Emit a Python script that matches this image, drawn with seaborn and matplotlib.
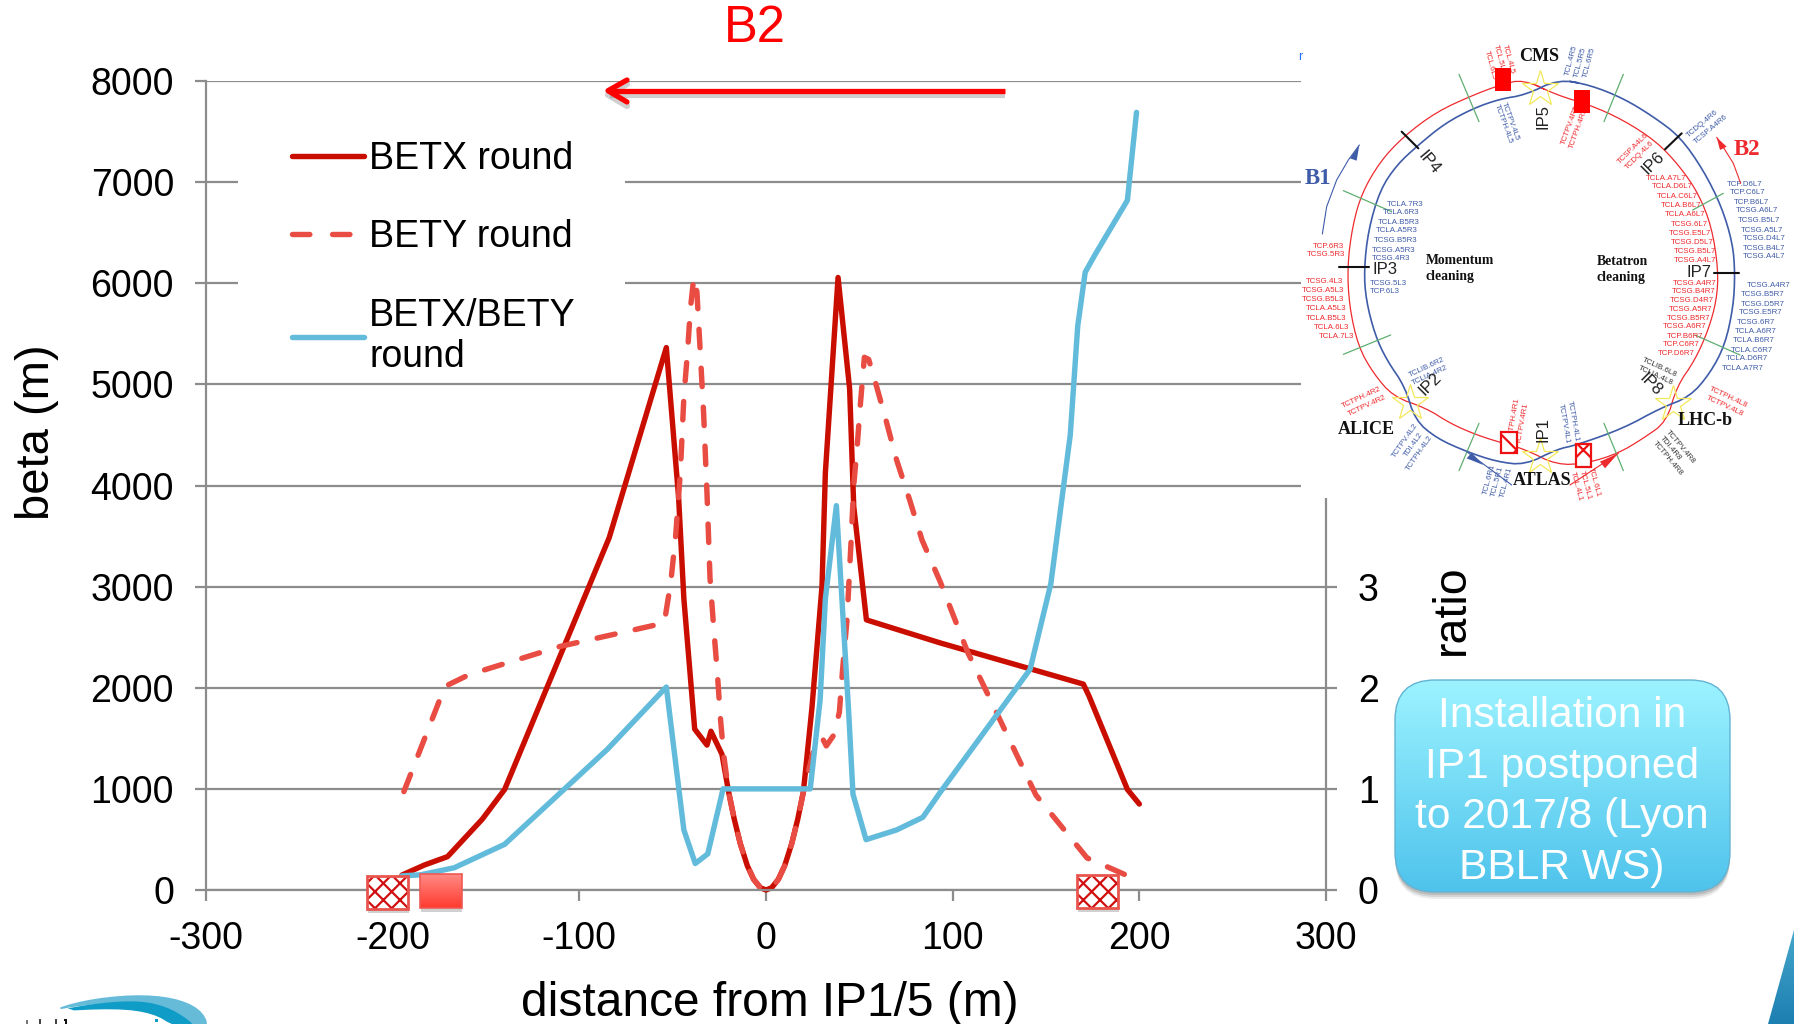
import numpy as np
import pandas as pd
import matplotlib
matplotlib.use("Agg")
import matplotlib.pyplot as plt
from matplotlib.lines import Line2D
from matplotlib.patches import Rectangle, FancyBboxPatch, Polygon
import seaborn as sns

# ---------- chart data ----------
betx_s = [-195, -183, -170.6, -152, -140, -84, -53.4, -46.8, -44, -38.2, -31.6, -29.5, -23.6, -20, -17, -13.8, -10, -6.6, -3, 0,
          3, 6.6, 10, 13.8, 17, 20, 24.6, 30, 31.8, 38.6, 44.8, 47, 53.8, 93.4, 170, 173, 193.6, 200]
betx = [148, 247, 330, 700, 995, 3484, 5364, 3876, 2880, 1591, 1433, 1570, 1342, 968, 700, 460, 240, 105, 22, 0,
        22, 105, 240, 460, 700, 968, 1799, 3004, 4125, 6057, 4956, 3793, 2671, 2443, 2036, 1920, 995, 850]
bety_s = [-194, -172, -159, -110, -54.5, -51, -48.4, -45.9, -44, -42, -40.5, -38.7, -37, -35, -33.4, -31.6, -30, -28,
          -26, -24.5, -22.7, -20, -17, -13.8, -10, -6.6, -3, 0, 3, 6.6, 10, 13.8, 17, 20, 25.5, 30, 32.3, 36.2, 39.3, 41, 43.4, 45.5, 47, 48.8,
          50.5, 52.7, 55, 57.7, 64, 70, 77, 83.6, 93.4, 108, 144.6, 172, 200]
bety = [973, 2013, 2130, 2410, 2640, 3045, 3502, 4125, 4873, 5330, 5746, 6057, 5912, 5247, 4707, 3918, 3087, 2588,
        2131, 1716, 1342, 968, 700, 460, 240, 105, 22, 0, 22, 105, 240, 460, 700, 968, 1383, 1508, 1425, 1529, 1757, 2173, 2671, 3419, 4000, 4375,
        4790, 5268, 5247, 5081, 4665, 4250, 3855, 3460, 3045, 2353, 939, 317, 90]
ratio_s = [-195, -185, -167, -140, -85, -53.4, -44, -37.9, -31.2, -23, 23.7, 29, 31.8, 37.7, 41.6, 44.3, 46.6, 53.6,
           70, 84, 93.4, 141.5, 152.6, 163, 167, 171, 176.5, 193.6, 198.5]
ratio = [0.14, 0.15, 0.22, 0.452, 1.391, 2.007, 0.594, 0.262, 0.357, 1.0, 1.0, 1.882, 2.879, 3.801, 2.588, 1.757, 0.947,
         0.498, 0.594, 0.719, 0.968, 2.183, 3.03, 4.5, 5.577, 6.109, 6.29, 6.82, 7.69]
x_ticks = [-300, -200, -100, 0, 100, 200, 300]
beta_ticks = [0, 1000, 2000, 3000, 4000, 5000, 6000, 7000, 8000]
ratio_ticks = [0, 1, 2, 3, 4, 5, 6, 7, 8]
ratio_tick_labels = ["0", "1", "2", "3", "", "", "", "", ""]
series_names = ["BETX round", "BETY round", "BETX/BETY\nround"]
callout_text = "Installation in\nIP1 postponed\nto 2017/8 (Lyon\nBBLR WS)"

# colours
C_X, C_Y, C_R = "#c90e00", "#e84c42", "#62bbdb"
GRID = "#8c8c8c"
RED, BLUE = "#ee2a2e", "#3f5ca8"

sns.set_theme(style="white")
plt.rcParams["font.family"] = ["Liberation Sans", "DejaVu Sans"]
plt.rcParams["axes.unicode_minus"] = False
plt.rcParams["hatch.linewidth"] = 1.6

W, H = 1794, 1024
fig = plt.figure(figsize=(W / 100, H / 100), dpi=100, facecolor="white")
L, R, T, B = 206, 1326, 81, 890
ax = fig.add_axes([L / W, 1 - B / H, (R - L) / W, (B - T) / H])
ax2 = ax.twinx()
ov = fig.add_axes([0, 0, 1, 1], zorder=10)
ov.patch.set_visible(False)
ov.axis("off")
ov.set_xlim(0, W)
ov.set_ylim(H, 0)

lkw = dict(estimator=None, errorbar=None, sort=False, linewidth=3.9, clip_on=False, legend=False)
df_x = pd.DataFrame({"s": betx_s, "beta": betx})
df_y = pd.DataFrame({"s": bety_s, "beta": bety})
df_r = pd.DataFrame({"s": ratio_s, "ratio": ratio})
sns.lineplot(data=df_x, x="s", y="beta", ax=ax, color=C_X, solid_capstyle="round", solid_joinstyle="round", **lkw)
sns.lineplot(data=df_y, x="s", y="beta", ax=ax, color=C_Y, linestyle=(0, (3.4, 3.8)),
             dash_capstyle="round", dash_joinstyle="round", **lkw)
sns.lineplot(data=df_r, x="s", y="ratio", ax=ax2, color=C_R, solid_capstyle="round", solid_joinstyle="round", **lkw)

ax.set_xlim(-300, 300)
ax.set_ylim(0, 8000)
ax2.set_ylim(0, 8)
ax.set_xticks(x_ticks)
ax.set_yticks(beta_ticks)
ax2.set_yticks(ratio_ticks)
ax2.set_yticklabels(ratio_tick_labels)
ax.grid(True, axis="y", color=GRID, linewidth=1.6)
ax.set_axisbelow(True)
ax2.grid(False)
for a in (ax, ax2):
    a.patch.set_visible(False)
    a.spines["top"].set_visible(False)
    for s in ("left", "right", "bottom"):
        a.spines[s].set_color(GRID)
        a.spines[s].set_linewidth(1.6)
ax.spines["right"].set_visible(False)
ax2.spines["left"].set_visible(False)
ax2.spines["bottom"].set_visible(False)
tk = dict(length=8, width=1.6, color=GRID, labelcolor="black", labelsize=27)
ax.tick_params(axis="x", bottom=True, pad=14, **tk)
ax.tick_params(axis="y", left=True, pad=15, **tk)
ax2.tick_params(axis="y", right=True, pad=15, **tk)

ax.set_xlabel("distance from IP1/5 (m)", fontsize=34.5, color="black", ha="center", va="center")
ax.xaxis.set_label_coords(770, 1004, transform=ov.transData)
ax.set_ylabel("beta (m)", fontsize=34, color="black", ha="center", va="center", rotation=90)
ax.yaxis.set_label_coords(37, 432, transform=ov.transData)
ax2.set_ylabel("ratio", fontsize=33.5, color="black", ha="center", va="center", rotation=90)
ax2.yaxis.set_label_coords(1452, 610, transform=ov.transData)

# legend: white patch cuts the grid, text and handles come from the legend
ax.add_patch(Rectangle((238, 100), 387, 278, transform=ov.transData, fc="white", ec="none", zorder=1))
handles = [Line2D([], [], color=C_X, lw=3.9, solid_capstyle="round"),
           Line2D([], [], color=C_Y, lw=3.9, linestyle=(0, (3.2, 4.2)), dash_capstyle="round"),
           Line2D([], [], color=C_R, lw=3.9, solid_capstyle="round")]
ov.legend(handles, series_names, loc="upper left", bbox_to_anchor=(292, 141), bbox_transform=ov.transData,
          frameon=False, fontsize=27, handlelength=1.93, handletextpad=0.13, labelspacing=1.13, borderpad=0,
          borderaxespad=0, labelcolor="black")

# B2 label and arrow
ov.text(755, 28, "B2", color="#ff0000", fontsize=36.5, ha="center", va="center")
for dx, col, al, lw in [(4, "#555555", 0.28, 4.5), (0, "#ff0000", 1, 3.8)]:
    ov.plot([1005, 610], [90.7 + dx, 90.7 + dx], color=col, alpha=al, lw=lw, solid_capstyle="butt")
    ov.plot([627, 608, 627], [80 + dx, 90.7 + dx, 102 + dx], color=col, alpha=al, lw=lw,
            solid_capstyle="round", solid_joinstyle="round")


def smooth(pts, rounds=2):
    """Corner cutting for the hand-traced decoration outlines (rings, logo)."""
    pts = np.asarray(pts, float)
    for _ in range(rounds):
        a_, b_ = pts[:-1], pts[1:]
        cut = np.empty((2 * len(a_), 2))
        cut[0::2] = 0.75 * a_ + 0.25 * b_
        cut[1::2] = 0.25 * a_ + 0.75 * b_
        pts = cut
    return pts


def gradient_box(x0, y0, x1, y1, top, bot, patch, z=3):
    c0, c1 = np.array(matplotlib.colors.to_rgb(top)), np.array(matplotlib.colors.to_rgb(bot))
    t = np.linspace(0, 1, 128)[:, None, None]
    im = ov.imshow(c0 + (c1 - c0) * t, extent=(x0, x1, y1, y0), aspect="auto", zorder=z, interpolation="bilinear")
    ov.add_patch(patch)
    im.set_clip_path(patch)
    ov.set_xlim(0, W)
    ov.set_ylim(H, 0)


def hatched(x0, y0, x1, y1, z=3, edge="#e8554f", hatchc="#d01010", lw=2.0, shadow=True, hatch="xx"):
    if shadow:
        ov.add_patch(Rectangle((x0 + 1, y0 + 4), x1 - x0, y1 - y0, fc="#666666", alpha=0.3, ec="none", zorder=z - 0.2))
    ov.add_patch(Rectangle((x0, y0), x1 - x0, y1 - y0, fc="white", ec=hatchc, hatch=hatch, lw=0, zorder=z))
    ov.add_patch(Rectangle((x0, y0), x1 - x0, y1 - y0, fc="none", ec=edge, lw=lw, zorder=z + 0.1))


hatched(367, 876, 408, 909)
hatched(1077, 875, 1118, 908)
ov.add_patch(Rectangle((421, 878), 41, 34, fc="#666666", alpha=0.3, ec="none", zorder=2.8))
p = Rectangle((420, 874), 42, 34, fc="none", ec="#ee5a54", lw=1.2, zorder=3.2)
gradient_box(420, 874, 462, 908, "#ff8a84", "#ff3a2e", p)

# ---------- LHC ring inset, in zoom coordinates ----------
ZX, ZY, ZS = 1290, 30, 3.0


def zx(x):
    return ZX + np.asarray(x, float) / ZS


def zy(y):
    return ZY + np.asarray(y, float) / ZS


ov.add_patch(Rectangle((1301, 0), W - 1301, 498, fc="white", ec="none", zorder=1))
Z = 1.5
ring_blue = [(805, 148), (900, 165), (1000, 205), (1090, 260), (1170, 320), (1240, 420), (1295, 530), (1328, 640),
             (1335, 730), (1330, 830), (1305, 945), (1260, 1030), (1200, 1100), (1110, 1135), (1000, 1195),
             (860, 1245), (800, 1258), (705, 1305), (620, 1295), (530, 1265), (440, 1225), (375, 1170), (345, 1070),
             (290, 990), (255, 915), (228, 810), (222, 720), (235, 600), (270, 480), (320, 405), (385, 345),
             (465, 280), (550, 235), (630, 207), (705, 195), (805, 148)]
ring_red = [(700, 148), (800, 195), (900, 225), (1000, 270), (1100, 335), (1170, 410), (1225, 490), (1265, 590),
            (1285, 720), (1280, 810), (1255, 900), (1215, 990), (1160, 1070), (1130, 1175), (1060, 1225),
            (985, 1270), (890, 1300), (800, 1305), (705, 1258), (640, 1240), (560, 1215), (480, 1180), (410, 1135),
            (310, 1100), (250, 1030), (205, 950), (178, 830), (172, 710), (187, 590), (215, 490), (270, 395),
            (340, 320), (440, 245), (550, 195), (630, 165), (700, 148)]
for ring, col, lw_ in ((ring_red, RED, 0.9), (ring_blue, BLUE, 1.2)):
    rr = smooth(ring + ring[1:2], 2)
    ov.plot(zx(rr[:, 0]), zy(rr[:, 1]), color=col, lw=lw_, zorder=Z)
ticks_green = [((507, 133), (567, 275)), ((1000, 133), (942, 275)), ((160, 482), (305, 545)), ((160, 973), (302, 915)),
               ((1208, 540), (1300, 490)), ((1215, 915), (1350, 975)), ((507, 1322), (567, 1180)),
               ((1000, 1322), (942, 1180))]
ticks_black = [((335, 305), (385, 355)), ((1125, 358), (1175, 310)), ((148, 712), (238, 712)), ((1272, 730), (1348, 730))]
for a_, b_ in ticks_green:
    ov.plot(zx([a_[0], b_[0]]), zy([a_[1], b_[1]]), color="#5fae70", lw=0.9, zorder=Z)
for a_, b_ in ticks_black:
    ov.plot(zx([a_[0], b_[0]]), zy([a_[1], b_[1]]), color="#111111", lw=1.5, zorder=Z)
for sx, sy in [(750, 178), (750, 1280), (360, 1120), (1148, 1122)]:
    ov.plot(zx([sx]), zy([sy]), marker="*", ms=27, mfc="none", mec="#f3e85a", mew=0.9, ls="none", zorder=Z)

small_red = [("TCP.6R3", 70, 648), ("TCSG.5R3", 52, 674), ("TCSG.4L3", 47, 755), ("TCSG.A5L3", 35, 781),
             ("TCSG.B5L3", 35, 809), ("TCLA.A5L3", 47, 836), ("TCLA.B5L3", 47, 864), ("TCLA.6L3", 72, 893),
             ("TCLA.7L3", 86, 919), ("TCLA.A7L7", 1068, 445), ("TCLA.D6L7", 1087, 471), ("TCLA.C6L7", 1100, 500),
             ("TCLA.B6L7", 1113, 526), ("TCLA.A6L7", 1125, 555), ("TCSG.6L7", 1144, 583), ("TCSG.E5L7", 1138, 610),
             ("TCSG.D5L7", 1144, 638), ("TCSG.B5L7", 1151, 664), ("TCSG.A4L7", 1151, 693), ("TCSG.A4R7", 1148, 760),
             ("TCSG.B4R7", 1146, 785), ("TCSG.D4R7", 1140, 810), ("TCSG.A5R7", 1137, 839), ("TCSG.B5R7", 1130, 865),
             ("TCSG.A6R7", 1118, 891), ("TCP.B6R7", 1130, 918), ("TCP.C6R7", 1118, 945), ("TCP.D6R7", 1105, 971)]
small_blue = [("TCLA.7R3", 292, 523), ("TCLA.6R3", 278, 549), ("TCLA.B5R3", 265, 578), ("TCLA.A5R3", 259, 603),
              ("TCSG.B5R3", 252, 632), ("TCSG.A5R3", 247, 661), ("TCSG.4R3", 247, 687), ("TCSG.5L3", 240, 760),
              ("TCP.6L3", 240, 784), ("TCP.D6L7", 1311, 462), ("TCP.C6L7", 1320, 488), ("TCP.B6L7", 1332, 517),
              ("TCSG.A6L7", 1339, 543), ("TCSG.B5L7", 1345, 572), ("TCSG.A5L7", 1352, 600), ("TCSG.D4L7", 1358, 627),
              ("TCSG.B4L7", 1358, 655), ("TCSG.A4L7", 1358, 681), ("TCSG.A4R7", 1371, 767), ("TCSG.B5R7", 1354, 793),
              ("TCSG.D5R7", 1354, 822), ("TCSG.E5R7", 1347, 849), ("TCSG.6R7", 1341, 877), ("TCLA.A6R7", 1334, 905),
              ("TCLA.B6R7", 1328, 932), ("TCLA.C6R7", 1322, 960), ("TCLA.D6R7", 1309, 986), ("TCLA.A7R7", 1297, 1014)]
for rows, col in ((small_red, RED), (small_blue, BLUE)):
    for t, x, y in rows:
        ov.text(zx(x), zy(y), t, color=col, fontsize=5.7, ha="left", va="center", zorder=Z)

small_rot = [("TCL.4R5", 845, 90, 75, BLUE), ("TCL.5R5", 870, 97, 75, BLUE), ("TCL.6R5", 898, 97, 75, BLUE),
             ("TCL.6L5", 600, 105, -75, RED), ("TCL.5L5", 627, 88, -75, RED), ("TCL.4L5", 655, 88, -75, RED),
             ("TCTPV.4L5", 662, 275, -70, BLUE), ("TCTPH.4L5", 640, 283, -70, BLUE),
             ("TCTPV.4R5", 842, 285, 70, RED), ("TCTPH.4R5", 865, 295, 70, RED),
             ("TCDQ.4R6", 1238, 282, 40, BLUE), ("TCSP.A4R6", 1262, 298, 40, BLUE),
             ("TCSP.A4L6", 1030, 357, 45, RED), ("TCDQ.4L6", 1048, 375, 45, RED),
             ("TCLIB.6R2", 410, 1012, 25, BLUE), ("TCLIA.4R2", 420, 1037, 25, BLUE),
             ("TCTPH.4R2", 215, 1103, 25, RED), ("TCTPV.4R2", 230, 1127, 25, RED),
             ("TCTPV.4L2", 347, 1232, 55, BLUE), ("TDI.4L2", 372, 1245, 55, BLUE), ("TCTPH.4L2", 390, 1270, 55, BLUE),
             ("TCTPH.4R1", 672, 1165, 80, RED), ("TCTPV.4R1", 700, 1180, 80, RED),
             ("TCTPH.4L1", 848, 1175, -80, BLUE), ("TCTPV.4L1", 822, 1182, -80, BLUE),
             ("TCL.6R1", 597, 1348, 75, BLUE), ("TCL.5R1", 622, 1355, 75, BLUE), ("TCL.4R1", 648, 1358, 75, BLUE),
             ("TCL.4L1", 858, 1370, -75, RED), ("TCL.5L1", 885, 1365, -75, RED), ("TCL.6L1", 912, 1355, -75, RED),
             ("TCLIB.6L8", 1110, 1012, -25, "#333333"), ("TCLIA.4L8", 1098, 1037, -25, "#333333"),
             ("TCTPH.4L8", 1316, 1103, -25, RED), ("TCTPV.4L8", 1304, 1128, -25, RED),
             ("TCTPV.4R8", 1172, 1250, -50, "#333333"), ("TDI.4R8", 1140, 1255, -50, "#333333"),
             ("TCTPH.4R8", 1132, 1285, -50, "#333333")]
for t, x, y, rot, col in small_rot:
    ov.text(zx(x), zy(y), t, color=col, fontsize=5.7, rotation=rot, ha="center", va="center",
            rotation_mode="anchor", zorder=Z)

ip_labels = [("IP5", 758, 260, 90), ("IP1", 758, 1200, 90), ("IP4", 418, 398, -50), ("IP6", 1088, 398, 45),
             ("IP3", 285, 720, 0), ("IP7", 1228, 727, 0), ("IP2", 422, 1062, 45), ("IP8", 1082, 1065, -45)]
for t, x, y, rot in ip_labels:
    ov.text(zx(x), zy(y), t, color="#222222", fontsize=12, rotation=rot, ha="center", va="center",
            rotation_mode="anchor", zorder=Z)
serif = ["Liberation Serif", "DejaVu Serif"]
for t, x, y, fs, col in [("CMS", 747, 80, 13, "#111111"), ("ATLAS", 757, 1352, 13, "#111111"),
                         ("ALICE", 230, 1200, 13, "#111111"), ("LHC-b", 1246, 1172, 13, "#111111"),
                         ("B1", 85, 445, 16.5, BLUE), ("B2", 1372, 358, 16.5, RED)]:
    ov.text(zx(x), zy(y), t, color=col, fontsize=fs, family=serif, weight="bold", ha="center", va="center", zorder=Z + 1)
for t, x, y in [("Momentum\ncleaning", 408, 716), ("Betatron\ncleaning", 920, 719)]:
    ov.text(zx(x), zy(y), t, color="#111111", fontsize=9.8, family=serif, weight="bold", ha="left", va="center",
            linespacing=1.25, zorder=Z)
ov.text(zx(30), zy(80), "r", color="#1f6fff", fontsize=9, ha="center", va="center", zorder=Z)

# beam arrows of the inset
b1_arc = [(97, 612), (110, 530), (140, 450), (175, 390), (208, 345)]
b2_arc = [(1352, 460), (1330, 400), (1305, 360), (1280, 322)]
ov.plot(zx([q[0] for q in b1_arc]), zy([q[1] for q in b1_arc]), color=BLUE, lw=0.8, zorder=Z)
ov.plot(zx([q[0] for q in b2_arc]), zy([q[1] for q in b2_arc]), color=RED, lw=0.8, zorder=Z)
ov.plot(zx([840, 985]), zy([1365, 1270]), color=RED, lw=0.8, zorder=Z)
ov.plot(zx([530, 665]), zy([1265, 1365]), color=BLUE, lw=0.8, zorder=Z)
for tip, base1, base2, col in [((208, 345), (180, 385), (200, 392), BLUE), ((1280, 322), (1290, 360), (1310, 350), RED),
                               ((985, 1270), (930, 1295), (945, 1315), RED), ((580, 1305), (545, 1268), (530, 1285), BLUE)]:
    ov.add_patch(Polygon(np.c_[zx([tip[0], base1[0], base2[0]]), zy([tip[1], base1[1], base2[1]])],
                         fc=col, ec="none", zorder=Z))

for x0, y0, x1, y1 in [(615, 115, 664, 184), (852, 180, 900, 248)]:
    ov.add_patch(Rectangle((zx(x0), zy(y0)), (x1 - x0) / ZS, (y1 - y0) / ZS, fc="#ff0000", ec="none", zorder=3))
for x0, y0, x1, y1 in [(634, 1205, 680, 1270), (858, 1243, 904, 1310)]:
    hatched(zx(x0), zy(y0), zx(x1), zy(y1), edge="#ee1111", hatchc="#ee1111", lw=1.6, shadow=False, hatch="x")

# ---------- callout ----------
box = dict(boxstyle="round,pad=0,rounding_size=40")
for off, al in [(7, 0.10), (5, 0.16), (3, 0.2)]:
    ov.add_patch(FancyBboxPatch((1395, 680 + off), 335, 212, fc="#555555", ec="none", alpha=al, zorder=2.6, **box))
p = FancyBboxPatch((1395, 680), 335, 212, fc="none", ec="#63b3d3", lw=1.0, zorder=3.2, **box)
gradient_box(1395, 680, 1730, 892, "#9cf3ff", "#4fc3ec", p)
ov.text(1562, 792, callout_text, color="white", fontsize=30.6, ha="center", va="center", linespacing=1.35, zorder=4)

# ---------- corner decorations ----------
p = Polygon([(1794, 930), (1768, 1024), (1794, 1024)], fc="none", ec="none", zorder=3)
gradient_box(1760, 930, 1794, 1024, "#46a6cb", "#1c7fb1", p)
logo_light = [(140, 155), (250, 120), (400, 103), (520, 112), (600, 145), (630, 200), (575, 200), (520, 150), (400, 125), (250, 135), (140, 155)]
logo_dark = [(145, 155), (300, 128), (420, 122), (500, 140), (560, 175), (585, 200), (525, 200), (460, 160), (350, 145), (145, 155)]
for shape, col, z_ in ((logo_light, "#66bbd9", 3), (logo_dark, "#0f9cc6", 3.1)):
    ss = smooth(shape, 2)
    ov.fill(ss[:, 0] / 3, 960 + ss[:, 1] / 3, fc=col, ec="none", zorder=z_)
for x0, y0, w_, h_, col in [(26, 1020, 2, 4, "#777777"), (39, 1019, 2, 5, "#444444"), (55, 1019, 2, 5, "#444444"),
                            (65, 1019, 2, 5, "#111111"), (64, 1019, 2, 2, "#111111"), (155, 1019, 3, 3, "#0f9cc6")]:
    ov.add_patch(Rectangle((x0, y0), w_, h_, fc=col, ec="none", zorder=3))
ov.set_xlim(0, W)
ov.set_ylim(H, 0)

fig.savefig("out.png", dpi=100, facecolor="white")
